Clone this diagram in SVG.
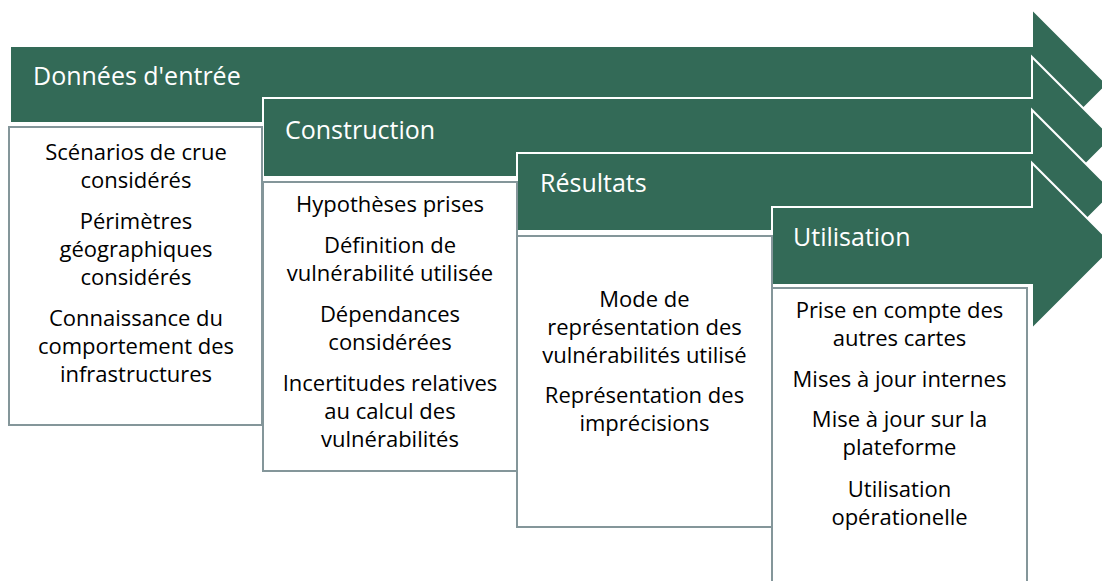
<svg xmlns="http://www.w3.org/2000/svg" width="1102" height="581" viewBox="0 0 1102 581">
<style>
.arrow{fill:#336a57;stroke:#ffffff;stroke-width:2;stroke-linejoin:miter}
.box{fill:#ffffff;stroke:#84969a;stroke-width:2}
.title{font-family:"Open Sans","Noto Sans",sans-serif;font-size:25px;fill:#ffffff}
.body{font-family:"Open Sans","Noto Sans",sans-serif;font-size:22px;fill:#000000;text-anchor:middle}
</style>
<rect x="0" y="0" width="1102" height="581" fill="#ffffff"/>
<g id="stage-donnees">
<path class="arrow" d="M10,46 L1032,46 L1032,9 L1107.5,84.5 L1032,160 L1032,123 L10,123 Z"/>
<text class="title" x="33" y="85">Données d'entrée</text>
</g>
<g id="stage-construction">
<path class="arrow" d="M263,98 L1032,98 L1032,57 L1112.5,137.5 L1032,218 L1032,177 L263,177 Z"/>
<text class="title" x="285" y="139">Construction</text>
</g>
<g id="stage-resultats">
<path class="arrow" d="M517,153 L1032,153 L1032,110 L1114,192 L1032,274 L1032,231 L517,231 Z"/>
<text class="title" x="540" y="192">Résultats</text>
</g>
<g id="stage-utilisation">
<path class="arrow" d="M772,207 L1032,207 L1032,163 L1115,246 L1032,329 L1032,285 L772,285 Z"/>
<text class="title" x="793" y="246">Utilisation</text>
</g>
<g id="box-donnees">
<rect class="box" x="9" y="127" width="253" height="298"/>
<text class="body" x="136" y="160">Scénarios de crue</text>
<text class="body" x="136" y="188">considérés</text>
<text class="body" x="136" y="229">Périmètres</text>
<text class="body" x="136" y="257">géographiques</text>
<text class="body" x="136" y="285">considérés</text>
<text class="body" x="136" y="326">Connaissance du</text>
<text class="body" x="136" y="354">comportement des</text>
<text class="body" x="136" y="382">infrastructures</text>
</g>
<g id="box-construction">
<rect class="box" x="263" y="182" width="254" height="289"/>
<text class="body" x="390" y="212">Hypothèses prises</text>
<text class="body" x="390" y="253">Définition de</text>
<text class="body" x="390" y="281">vulnérabilité utilisée</text>
<text class="body" x="390" y="322">Dépendances</text>
<text class="body" x="390" y="350">considérées</text>
<text class="body" x="390" y="391">Incertitudes relatives</text>
<text class="body" x="390" y="419">au calcul des</text>
<text class="body" x="390" y="447">vulnérabilités</text>
</g>
<g id="box-resultats">
<rect class="box" x="517" y="236" width="255" height="291"/>
<text class="body" x="644.5" y="307">Mode de</text>
<text class="body" x="644.5" y="335">représentation des</text>
<text class="body" x="644.5" y="363">vulnérabilités utilisé</text>
<text class="body" x="644.5" y="403">Représentation des</text>
<text class="body" x="644.5" y="431">imprécisions</text>
</g>
<g id="box-utilisation">
<rect class="box" x="772" y="288" width="255" height="300"/>
<text class="body" x="899.5" y="318">Prise en compte des</text>
<text class="body" x="899.5" y="346">autres cartes</text>
<text class="body" x="899.5" y="387">Mises à jour internes</text>
<text class="body" x="899.5" y="427">Mise à jour sur la</text>
<text class="body" x="899.5" y="455">plateforme</text>
<text class="body" x="899.5" y="497">Utilisation</text>
<text class="body" x="899.5" y="525">opérationelle</text>
</g>
</svg>
